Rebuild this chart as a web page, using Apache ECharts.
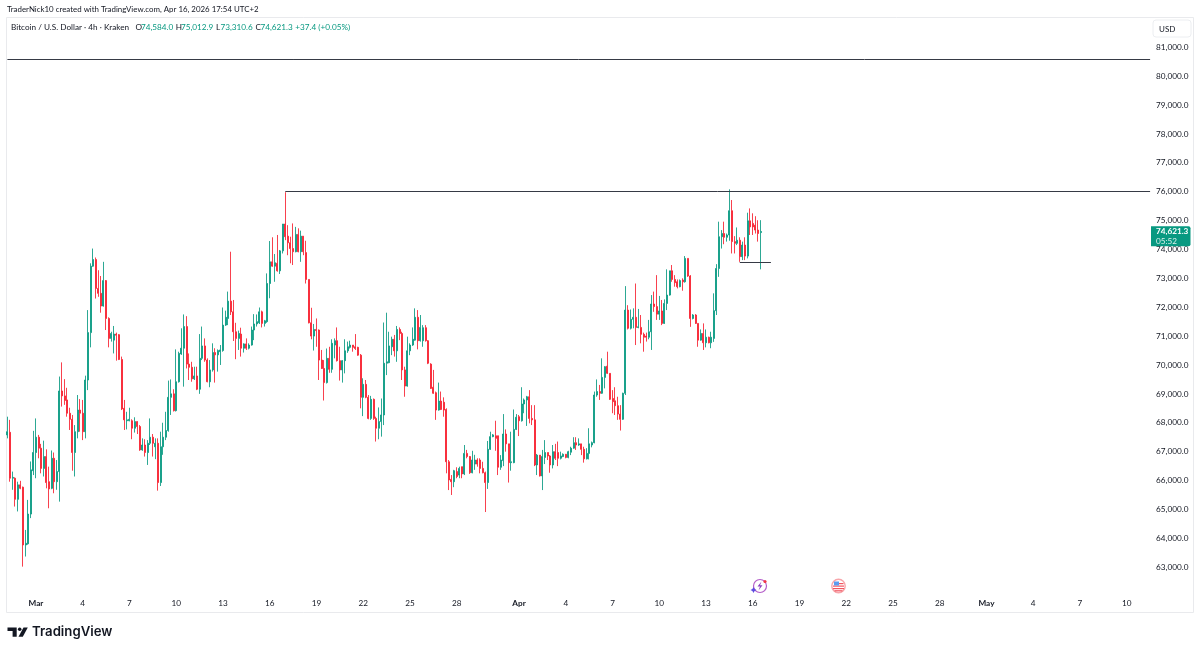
<!DOCTYPE html>
<html>
<head>
<meta charset="utf-8">
<title>BTCUSD 4h</title>
<style>
html, body { margin: 0; padding: 0; background: #fff; }
#c1 { width: 1200px; height: 652px; }
</style>
<script src="https://cdn.jsdelivr.net/npm/echarts@6/dist/echarts.min.js"></script>
</head>
<body>
<div id="c1"></div>
<script>
// 4h candles
var opens = [
    67580,67670,66080,66080,65350,65850,65770,63770,63810,64840,
    66340,66970,67500,67120,66420,66830,65960,65730,66770,65960,
    66310,69100,68930,68790,68330,68120,66970,67690,68440,68330,
    67690,69480,71120,73420,73650,72650,72480,72040,72920,71610,
    70920,70860,71070,71050,70190,68500,68070,68070,68070,67810,
    68040,67870,67060,67230,66970,67290,67500,67170,67290,65930,
    67170,67500,67730,68880,69000,68420,69420,70380,70580,71330,
    70030,69920,69520,69620,69160,70230,70660,70170,69420,69830,
    70430,70350,70460,70500,71380,71610,72210,71840,71150,70920,
    71070,70580,70730,70580,70690,71210,71420,71460,71840,71440,
    71500,72820,73570,73420,73520,73260,73950,74880,74460,74230,
    74030,73920,74520,73920,74460,73890,72960,71460,71000,71230,
    71210,70170,69880,69390,70230,69850,70690,70840,70150,69830,
    70150,70490,70610,70690,70630,70610,70340,68880,69330,68880,
    68150,68810,68150,67810,68040,68270,70060,70080,70630,70890,
    70490,71230,71090,69830,69270,70490,70690,70860,71650,70840,
    70840,71290,70840,70030,69230,69040,68440,68750,68710,68460,
    66650,66040,65960,66310,66190,66480,66230,66940,66830,66270,
    66570,66710,66710,66420,66270,65930,67080,67520,67550,67550,
    66460,66690,67610,67270,66620,66620,67770,68210,68070,68650,
    68790,68900,68150,68100,66540,66880,66160,66800,66970,66850,
    66540,67000,66970,66770,66830,66910,66800,66980,67120,67310,
    67230,67270,67080,66750,66940,67230,67310,68960,69080,69020,
    69570,69960,69710,68840,68760,68590,68300,68120,69020,71900,
    71270,71580,71650,71300,71300,71060,71000,70960,71150,72110,
    72020,71760,71870,71440,72130,72420,73260,72960,72880,72710,
    72940,72880,73690,73080,71610,71730,71440,70860,71090,70770,
    70960,70770,70920,71880,73340,74440,74550,74420,74500,75340,
    74270,74210,74320,73750,74150,73770,74990,74900,74840,74670,
    74584.0
];
var closes = [
    67690,66080,66110,65350,65850,65730,63770,63830,64840,66370,
    66970,67500,67120,66420,66830,65930,65710,66770,65960,66310,
    69100,68930,68770,68330,68120,66970,67690,68440,68330,67690,
    69480,71120,73420,73650,72650,72480,72040,72920,71610,70920,
    71090,71070,71030,70190,68480,68100,68100,68120,67810,68040,
    67870,67060,67230,66970,67290,67500,67290,67290,65930,67170,
    67500,67730,68880,69000,68420,69420,70400,70580,71330,70030,
    69920,69520,69620,69160,70230,70660,70170,69420,69830,70430,
    70350,70500,70520,71380,71650,72210,71840,71150,70920,71090,
    70580,70730,70580,70690,71210,71420,71500,71840,71440,71530,
    72820,73570,73420,73540,73260,73950,74880,74440,74230,74030,
    73920,74520,73920,74460,73920,72960,71460,71000,71230,71190,
    70170,69880,69390,70230,69850,70750,70840,70150,69830,70150,
    70490,70630,70690,70610,70570,70340,68880,69330,68880,68150,
    68810,68150,67810,68040,68270,70060,70110,70660,70890,70490,
    71230,71090,69830,69270,70490,70690,70890,71650,70840,71300,
    71290,70840,70060,69190,69020,68440,68750,68460,68440,66650,
    66020,65960,66340,66140,66420,66230,66940,66830,66270,66710,
    66710,66570,66420,66270,65930,67080,67520,67580,67460,66460,
    66710,67610,67270,66620,66650,67770,68190,68070,68650,68790,
    68900,68150,68100,66540,66880,66160,66830,66970,66850,66540,
    67000,66770,66770,66850,66910,66800,67000,67120,67310,67230,
    67270,67080,66750,66940,67270,67310,68960,69080,69020,69570,
    69940,69710,68810,68730,68590,68300,68120,69020,71900,71270,
    71580,71650,71300,71320,71060,70960,70960,71150,72110,72020,
    71760,71870,71440,72130,72420,73260,72960,72850,72710,72920,
    72880,73690,73080,71610,71730,71440,70860,71090,70770,70960,
    70770,70960,71880,73340,74440,74550,74420,74500,75340,74270,
    74210,74320,73750,74150,73770,74990,74780,74780,74670,74550,
    74621.3
];
var lows = [
    67460,65960,65680,65100,64930,65700,63020,63370,63780,64700,
    66190,66080,66770,66250,66140,65730,65040,65700,65560,65680,
    65270,68560,68620,68210,67750,66340,66140,67460,67690,67400,
    67460,69130,70610,73400,72300,72360,71810,72020,71210,70610,
    70810,70400,70150,70170,68440,67750,67770,68050,67430,67660,
    67610,67030,67030,66830,66540,67230,66830,66740,65650,65810,
    66890,67400,67690,68270,68390,68390,69390,70350,69250,69880,
    69480,69420,69480,69130,69000,70170,70110,69400,69230,69770,
    69390,69770,70000,70460,71350,71380,71730,70830,70200,70520,
    70290,70430,70520,70540,70670,70860,71330,71420,71300,71330,
    71460,72310,73400,72880,73230,73150,73860,74320,73800,73520,
    73460,73900,73900,73570,73800,72820,71440,70890,70500,70630,
    69480,69860,68770,69360,69730,69730,70230,70120,69460,69390,
    69710,70420,70570,70460,70520,70320,68500,68230,68850,68120,
    68100,68100,67350,67430,67520,67920,69650,70060,70340,70290,
    70110,70860,69480,68900,69250,70340,70660,70840,70540,70810,
    70630,70810,70030,69170,69000,68100,68420,68440,68210,66250,
    65670,65500,65770,66080,66080,66080,66190,66770,66230,66250,
    66370,66480,66250,66250,64910,65710,67060,67500,67030,66190,
    66370,66500,67000,65930,66340,66600,67750,67540,68040,68330,
    67890,67980,67920,66500,66190,66140,65670,66570,66710,66270,
    66420,66710,66500,66730,66810,66770,66770,66880,67100,67060,
    67200,66880,66620,66730,66730,67150,67290,68900,68790,69000,
    69190,69690,68790,68330,68270,68100,67730,68100,68960,71230,
    71230,71270,70690,71270,70750,70460,70810,70890,70520,71840,
    71560,71560,71380,71420,71900,72400,72880,72710,72650,72690,
    72570,72850,73050,71320,71580,71420,70630,70840,70520,70610,
    70750,70580,70800,71730,73050,74030,74180,74270,74300,73860,
    73860,74150,73570,73630,73630,73690,74500,74500,74550,74270,
    73310.6
];
var highs = [
    68210,68100,66310,66110,65960,65990,65790,64290,65330,66660,
    67720,68150,67580,67270,67380,67080,66480,67040,66970,66710,
    69600,70090,69510,69210,68520,68270,67920,68960,68820,68790,
    69630,71900,73520,74030,73720,73280,73080,73570,72940,71650,
    71150,71350,71120,71070,70290,68790,68380,68520,68120,68190,
    68050,67920,67460,67430,67400,68150,67610,67460,67460,67690,
    68000,68380,69460,69500,69160,70540,70460,71270,71750,71690,
    70400,70110,69940,69940,71070,71330,70920,70230,70170,70750,
    70580,70540,70690,71990,71880,72540,73920,72250,71460,71190,
    71290,70750,70920,70750,71330,71760,71750,71990,71880,71560,
    73170,74290,74420,73840,74500,73980,74880,75980,74840,74440,
    74900,74780,74730,74650,74460,74300,72960,71980,71420,71610,
    71230,70520,70170,70570,70630,70890,70920,71300,70630,70170,
    70890,70810,70840,70690,71070,70630,70380,69540,69480,68960,
    68930,68840,68210,68530,68840,71470,71810,71150,70980,71040,
    71350,71300,71150,69940,70980,70750,71300,71960,71900,71730,
    71380,71380,70860,70060,69830,69080,69390,69080,68880,68500,
    66710,66190,66370,66460,66480,66480,67230,67060,66850,67030,
    66890,66770,66770,66650,66310,67370,67690,67610,68070,67550,
    66880,68300,67770,67270,67690,68460,68300,68270,69230,68840,
    68930,69130,68610,68610,66920,66880,67060,67400,66970,66880,
    67230,67270,67350,67000,66940,66920,67030,67170,67500,67500,
    67460,67270,67170,67120,67810,67350,69080,69500,69310,70230,
    69960,70460,69710,69130,69230,68900,68610,69040,72730,72070,
    71920,71960,72820,71940,71730,71120,71120,71560,72420,72540,
    73110,72390,72250,72270,73310,73260,73460,73110,72960,72960,
    73000,73770,73690,73110,71760,71760,71440,71230,71440,71230,
    70980,71150,72480,73490,74960,74670,74960,74550,76080,75710,
    74460,74760,74420,74270,74420,75270,75420,75250,75150,75010,
    75012.9
];

// drawn levels: price, first bar, last bar
var levelPrices = [80590, 76000, 73560];
var levelFrom = [0, 107, 282];
var levelTo = [440, 440, 294];

// time axis
var tickDates = ['03-01', '03-04', '03-07', '03-10', '03-13', '03-16', '03-19', '03-22', '03-25', '03-28',
    '04-01', '04-04', '04-07', '04-10', '04-13', '04-16', '04-19', '04-22', '04-25', '04-28',
    '05-01', '05-04', '05-07', '05-10'];
var tickTexts = ['Mar', '4', '7', '10', '13', '16', '19', '22', '25', '28',
    'Apr', '4', '7', '10', '13', '16', '19', '22', '25', '28',
    'May', '4', '7', '10'];

var changeText = '+37.4 (+0.05%)';

var UI_FONT = 'Lato, "Noto Sans", sans-serif';
var UP = '#089981';
var DOWN = '#f7202f';
var TEXT = '#131722';

//补到 5 月的空白时间段
function buildCategories() {
    var list = [];
    var start = Date.UTC(2026, 2, 1) - 11 * 4 * 3600 * 1000;
    for (var i = 0; i <= 440; i++) {
        var d = new Date(start + i * 4 * 3600 * 1000);
        var mm = ('0' + (d.getUTCMonth() + 1)).slice(-2);
        var dd = ('0' + d.getUTCDate()).slice(-2);
        var hh = ('0' + d.getUTCHours()).slice(-2);
        list.push(mm + '-' + dd + ' ' + hh);
    }
    return list;
}

function fmt(v) {
    return v.toLocaleString('en-US', { minimumFractionDigits: 1, maximumFractionDigits: 1 });
}

function textAt(x, y, str, color, font) {
    return { type: 'text', silent: true, x: x, y: y, style: { text: str, font: font || '8.2px ' + UI_FONT, fill: color || TEXT, textVerticalAlign: 'middle' } };
}

var categories = buildCategories();
var tickMap = {};
tickDates.forEach(function (d, i) {
    tickMap[d + ' 00'] = tickTexts[i];
});

var candles = opens.map(function (o, i) {
    return [o, closes[i], lows[i], highs[i]];
});

var levelLines = levelPrices.map(function (p, i) {
    return [{ coord: [levelFrom[i], p] }, { coord: [levelTo[i], p] }];
});

var chart = echarts.init(document.getElementById('c1'), null, { renderer: 'canvas' });

chart.setOption({
    animation: false,
    backgroundColor: '#ffffff',
    grid: { left: 7.4, top: 18.3, width: 1142.7, height: 577.8, containLabel: false },
    xAxis: {
        type: 'category',
        data: categories,
        boundaryGap: false,
        axisLine: { show: false },
        axisTick: { show: false },
        splitLine: { show: false },
        axisLabel: {
            show: true,
            margin: 3,
            color: TEXT,
            fontFamily: UI_FONT,
            fontSize: 8.2,
            hideOverlap: false,
            interval: function (idx, value) {
                return tickMap[value] !== undefined;
            },
            formatter: function (value) {
                var t = tickMap[value] || '';
                return isNaN(t) && t ? '{m|' + t + '}' : t;
            },
            rich: {
                m: { fontWeight: 700, fontSize: 8.2, fontFamily: UI_FONT, color: TEXT }
            }
        }
    },
    yAxis: {
        type: 'value',
        position: 'right',
        min: 62000,
        max: 82000,
        interval: 1000,
        axisLine: { show: false },
        axisTick: { show: false },
        splitLine: { show: false },
        axisLabel: {
            margin: 6,
            color: TEXT,
            fontFamily: UI_FONT,
            fontSize: 8.2,
            showMinLabel: false,
            showMaxLabel: false,
            formatter: function (v) {
                return fmt(v);
            }
        }
    },
    series: [{
        type: 'candlestick',
        data: candles,
        barWidth: 1.5,
        itemStyle: {
            color: UP,
            color0: DOWN,
            borderColor: 'rgba(8,153,129,0.85)',
            borderColor0: 'rgba(247,32,47,0.85)',
            borderWidth: 1
        },
        markLine: {
            silent: true,
            symbol: 'none',
            animation: false,
            label: { show: false },
            lineStyle: { color: '#363a45', width: 1, type: 'solid' },
            data: levelLines
        }
    }]
});

//标注、边框、图标
var last = opens.length - 1;
var tagY = chart.convertToPixel({ yAxisIndex: 0 }, closes[last]);

chart.setOption({
    graphic: [
        // pane border
        { type: 'line', silent: true, shape: { x1: 6.5, y1: 17.5, x2: 1193.5, y2: 17.5 }, style: { stroke: '#e9eaed', lineWidth: 1 } },
        { type: 'line', silent: true, shape: { x1: 6.5, y1: 17.5, x2: 6.5, y2: 612.5 }, style: { stroke: '#e9eaed', lineWidth: 1 } },
        { type: 'line', silent: true, shape: { x1: 1193.5, y1: 17.5, x2: 1193.5, y2: 612.5 }, style: { stroke: '#e9eaed', lineWidth: 1 } },
        { type: 'line', silent: true, shape: { x1: 6.5, y1: 612.5, x2: 1193.5, y2: 612.5 }, style: { stroke: '#e9eaed', lineWidth: 1 } },
        // header
        textAt(7, 9.5, 'TraderNick10 created with TradingView.com, Apr 16, 2026 17:54 UTC+2', TEXT, '7.9px ' + UI_FONT),
        textAt(11, 27, 'Bitcoin / U.S. Dollar · 4h · Kraken'),
        textAt(135.5, 27, 'O'), textAt(141, 27, fmt(opens[last]), UP),
        textAt(175.7, 27, 'H'), textAt(181, 27, fmt(highs[last]), UP),
        textAt(216, 27, 'L'), textAt(220.5, 27, fmt(lows[last]), UP),
        textAt(255.5, 27, 'C'), textAt(260.5, 27, fmt(closes[last]), UP),
        textAt(295.3, 27, changeText, UP),
        // currency box
        { type: 'rect', silent: true, shape: { x: 1153, y: 20, width: 38, height: 17, r: 3 }, style: { fill: '#fff', stroke: '#eceef1', lineWidth: 1 } },
        textAt(1159, 29, 'USD', TEXT, '8px ' + UI_FONT),
        // last price tag
        { type: 'rect', silent: true, z: 20, shape: { x: 1151, y: tagY - 5.3, width: 39.5, height: 20, r: [0, 2, 2, 0] }, style: { fill: UP } },
        { type: 'text', silent: true, z: 21, x: 1156, y: tagY, style: { text: fmt(closes[last]), font: 'bold 8.2px ' + UI_FONT, fill: '#fff', textVerticalAlign: 'middle' } },
        { type: 'text', silent: true, z: 21, x: 1156, y: tagY + 9.7, style: { text: '05:52', font: '8.2px ' + UI_FONT, fill: 'rgba(255,255,255,0.85)', textVerticalAlign: 'middle' } },
        // event icons
        { type: 'circle', silent: true, shape: { cx: 760, cy: 586, r: 6.5 }, style: { fill: '#fff', stroke: '#b45cc8', lineWidth: 1.2 } },
        { type: 'polygon', silent: true, shape: { points: [[761.5, 581.5], [757.5, 586.5], [760, 586.5], [758.5, 590.5], [762.5, 585.2], [760, 585.2]] }, style: { fill: '#8e3fc0' } },
        { type: 'circle', silent: true, shape: { cx: 765, cy: 581.5, r: 1.6 }, style: { fill: '#f23645' } },
        { type: 'polygon', silent: true, shape: { points: [[753.5, 587], [754.6, 588.9], [756.5, 590], [754.6, 591.1], [753.5, 593], [752.4, 591.1], [750.5, 590], [752.4, 588.9]] }, style: { fill: '#5c4be0' } },
        { type: 'circle', silent: true, shape: { cx: 838.5, cy: 586, r: 6.7 }, style: { fill: '#fff', stroke: '#f7a6ab', lineWidth: 1.4 } },
        { type: 'rect', silent: true, shape: { x: 834, y: 583, width: 9.5, height: 1.2 }, style: { fill: '#f2545f' } },
        { type: 'rect', silent: true, shape: { x: 833, y: 585.5, width: 11, height: 1.2 }, style: { fill: '#f2545f' } },
        { type: 'rect', silent: true, shape: { x: 833, y: 588, width: 11, height: 1.2 }, style: { fill: '#f2545f' } },
        { type: 'rect', silent: true, shape: { x: 834.5, y: 590.2, width: 8, height: 1.2 }, style: { fill: '#f2545f' } },
        { type: 'rect', silent: true, shape: { x: 834, y: 581.5, width: 5, height: 4 }, style: { fill: '#5b9cf0' } },
        // logo
        { type: 'polygon', silent: true, shape: { points: [[7.5, 627.5], [16.7, 627.5], [16.7, 636.8], [12.6, 636.8], [12.6, 631], [7.5, 631]] }, style: { fill: TEXT } },
        { type: 'circle', silent: true, shape: { cx: 19.7, cy: 629.3, r: 1.8 }, style: { fill: TEXT } },
        { type: 'polygon', silent: true, shape: { points: [[23.5, 627.5], [27.8, 627.5], [22.8, 636.8], [18.5, 636.8]] }, style: { fill: TEXT } },
        textAt(32, 632.5, 'TradingView', TEXT, '600 13.2px Inter, ' + UI_FONT)
    ]
});
</script>
</body>
</html>
